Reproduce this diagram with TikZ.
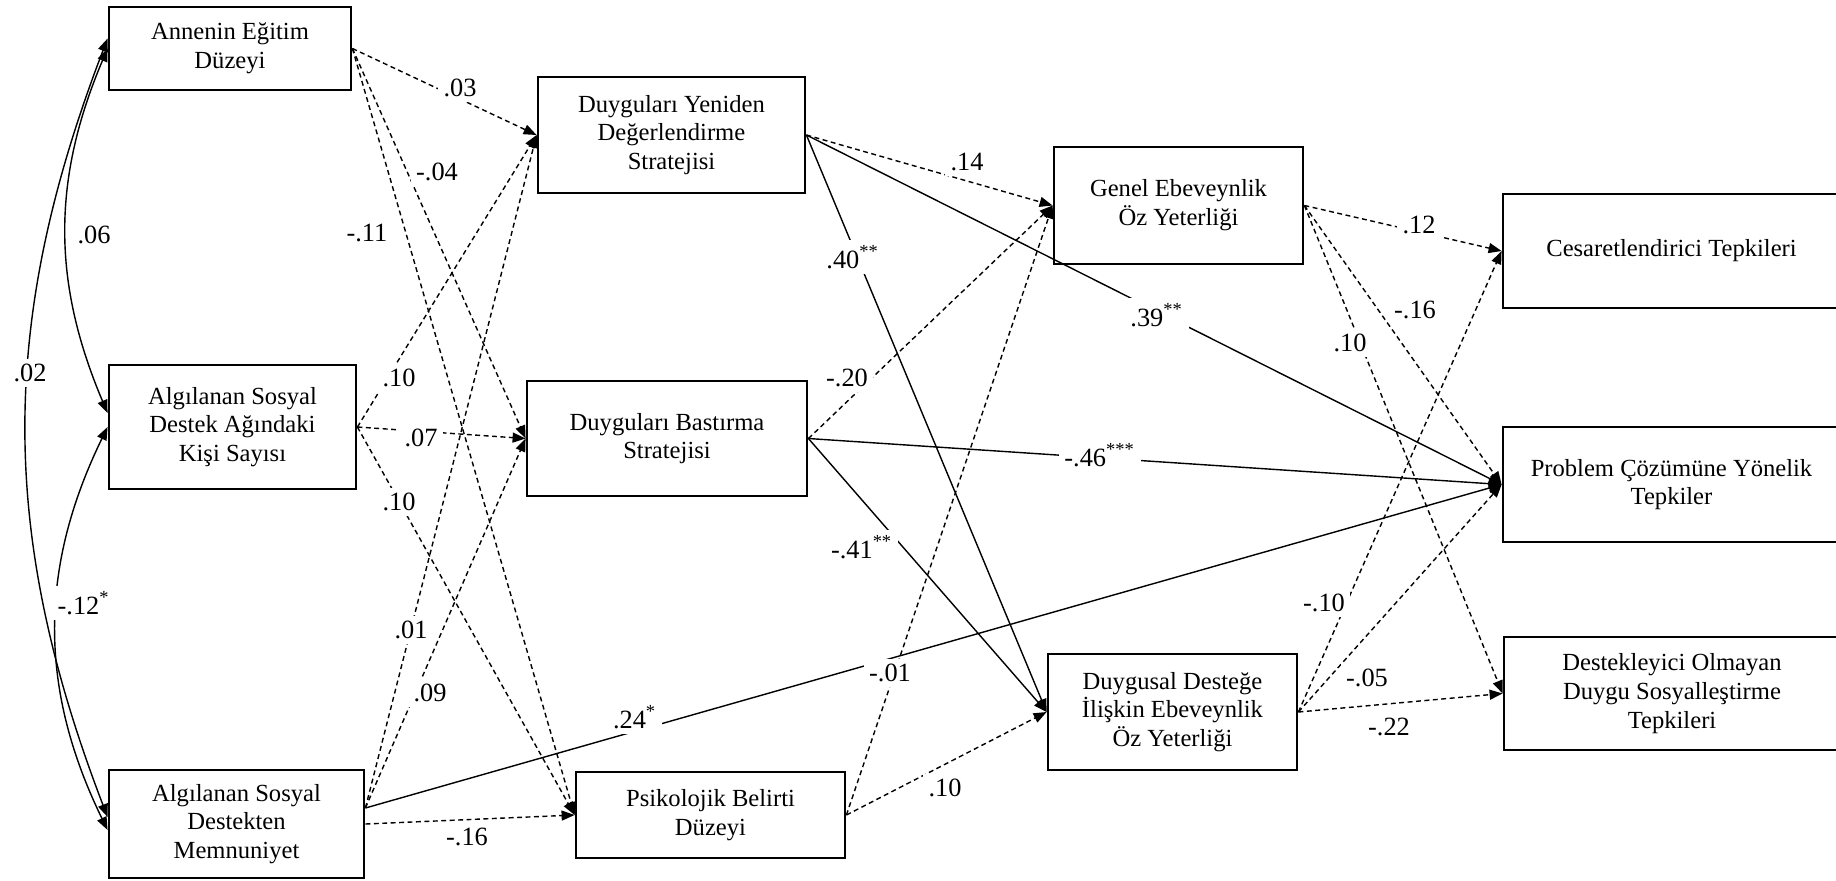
\documentclass[tikz,border=0pt]{standalone}
\usepackage{fontspec}
\setmainfont{Liberation Serif}
\usetikzlibrary{arrows.meta}

\begin{document}
\begin{tikzpicture}[
  x=1mm, y=-1mm,
  var/.style={draw, line width=0.8pt, align=center, inner sep=0pt, font=\fontsize{7}{8.2}\selectfont},
  sig/.style={line width=0.4pt, -{Triangle[length=1.3mm,width=1.0mm]}},
  nsig/.style={sig, dash pattern=on 1.4pt off 1pt},
  cov/.style={line width=0.4pt, {Triangle[length=1.3mm,width=1.0mm]}-{Triangle[length=1.3mm,width=1.0mm]}},
  coef/.style={fill=white, inner sep=1.5pt, font=\fontsize{7.5}{9}\selectfont}
]
\useasboundingbox (0,0) rectangle (183.6,88);

% --- Predictors ---
\node[var, minimum width=24.2mm, minimum height=8.3mm] (anne) at (23.0,4.85) {Annenin Eğitim\\Düzeyi};
\node[var, minimum width=24.7mm, minimum height=12.4mm] (kisi) at (23.25,42.7) {Algılanan Sosyal\\Destek Ağındaki\\Kişi Sayısı};
\node[var, minimum width=25.5mm, minimum height=10.8mm] (memnun) at (23.65,82.4) {Algılanan Sosyal\\Destekten\\Memnuniyet};

% --- Mediators ---
\node[var, minimum width=26.7mm, minimum height=11.6mm] (yeniden) at (67.15,13.5) {Duyguları Yeniden\\Değerlendirme\\Stratejisi};
\node[var, minimum width=28.0mm, minimum height=11.5mm] (bastir) at (66.7,43.85) {Duyguları Bastırma\\Stratejisi};
\node[var, minimum width=26.9mm, minimum height=8.6mm] (belirti) at (71.05,81.5) {Psikolojik Belirti\\Düzeyi};

% --- Parenting self-efficacy ---
\node[var, minimum width=24.9mm, minimum height=11.7mm] (genel) at (117.85,20.55) {Genel Ebeveynlik\\Öz Yeterliği};
\node[var, minimum width=24.9mm, minimum height=11.6mm] (duygusal) at (117.25,71.2) {Duygusal Desteğe\\İlişkin Ebeveynlik\\Öz Yeterliği};

% --- Outcomes ---
\node[var, minimum width=33.7mm, minimum height=11.4mm] (cesaret) at (167.15,25.1) {Cesaretlendirici Tepkileri};
\node[var, minimum width=33.7mm, minimum height=11.5mm] (problem) at (167.15,48.45) {Problem Çözümüne Yönelik\\Tepkiler};
\node[var, minimum width=33.6mm, minimum height=11.3mm] (destek) at (167.2,69.35) {Destekleyici Olmayan\\Duygu Sosyalleştirme\\Tepkileri};

\coordinate (memnunUp) at ([yshift=1.6mm]memnun.east);

% --- Covariances ---
\draw[cov] ([yshift=1mm]anne.west) to[bend right=21] ([yshift=0.7mm]memnun.west);
\draw[cov] (anne.west) to[bend right=23] ([yshift=1.4mm]kisi.west);
\draw[cov] (kisi.west) to[bend right=26] ([yshift=-0.6mm]memnun.west);

% --- Predictors -> mediators ---
\draw[nsig] (anne.east) -- (yeniden.west);
\draw[nsig] (anne.east) -- (bastir.west);
\draw[nsig] (anne.east) -- (belirti.west);
\draw[nsig] (kisi.east) -- (yeniden.west);
\draw[nsig] (kisi.east) -- (bastir.west);
\draw[nsig] (kisi.east) -- (belirti.west);
\draw[nsig] (memnunUp) -- (yeniden.west);
\draw[nsig] (memnunUp) -- (bastir.west);
\draw[nsig] (memnun.east) -- (belirti.west);
\draw[sig] (memnunUp) -- (problem.west);

% --- Mediators -> self-efficacy / outcomes ---
\draw[nsig] (yeniden.east) -- (genel.west);
\draw[sig] (yeniden.east) -- (duygusal.west);
\draw[sig] (yeniden.east) -- (problem.west);
\draw[nsig] (bastir.east) -- (genel.west);
\draw[sig] (bastir.east) -- (problem.west);
\draw[sig] (bastir.east) -- (duygusal.west);
\draw[nsig] (belirti.east) -- (genel.west);
\draw[nsig] (belirti.east) -- (duygusal.west);

% --- Self-efficacy -> outcomes ---
\draw[nsig] (genel.east) -- (cesaret.west);
\draw[nsig] (genel.east) -- (problem.west);
\draw[nsig] (genel.east) -- (destek.west);
\draw[nsig] (duygusal.east) -- (cesaret.west);
\draw[nsig] (duygusal.east) -- (problem.west);
\draw[nsig] (duygusal.east) -- (destek.west);

% --- Coefficients ---
\node[coef] (c02) at (3.0,37.3) {.02};
\node[coef] (c06) at (9.4,23.5) {.06};
\node[coef] (c12) at (8.4,60.3) {-.12\textsuperscript{*}};
\node[coef] (c03) at (46.0,8.8) {.03};
\node[coef] (c04) at (43.7,17.2) {-.04};
\node[coef] (c11) at (36.7,23.3) {-.11};
\node[coef] (c10a) at (39.9,37.8) {.10};
\node[coef] (c07) at (42.1,43.8) {.07};
\node[coef] (c10b) at (39.9,50.2) {.10};
\node[coef] (c01) at (41.1,63.0) {.01};
\node[coef] (c09) at (43.0,69.3) {.09};
\node[coef] (c16a) at (46.7,83.7) {-.16};
\node[coef] (c24) at (63.5,71.7) {.24\textsuperscript{*}};
\node[coef] (c14) at (96.7,16.2) {.14};
\node[coef] (c40) at (85.3,25.7) {.40\textsuperscript{**}};
\node[coef] (c39) at (115.7,31.5) {.39\textsuperscript{**}};
\node[coef] (c20) at (84.7,37.8) {-.20};
\node[coef] (c46) at (110.0,45.5) {-.46\textsuperscript{***}};
\node[coef] (c41) at (86.2,54.7) {-.41\textsuperscript{**}};
\node[coef] (c01b) at (89.0,67.3) {-.01};
\node[coef] (c10c) at (94.5,78.8) {.10};
\node[coef] (c12b) at (141.9,22.5) {.12};
\node[coef] (c16b) at (141.5,31.0) {-.16};
\node[coef] (c10d) at (135.0,34.3) {.10};
\node[coef] (c10e) at (132.4,60.3) {-.10};
\node[coef] (c05) at (136.7,67.8) {-.05};
\node[coef] (c22) at (138.9,72.7) {-.22};

\end{tikzpicture}
\end{document}
